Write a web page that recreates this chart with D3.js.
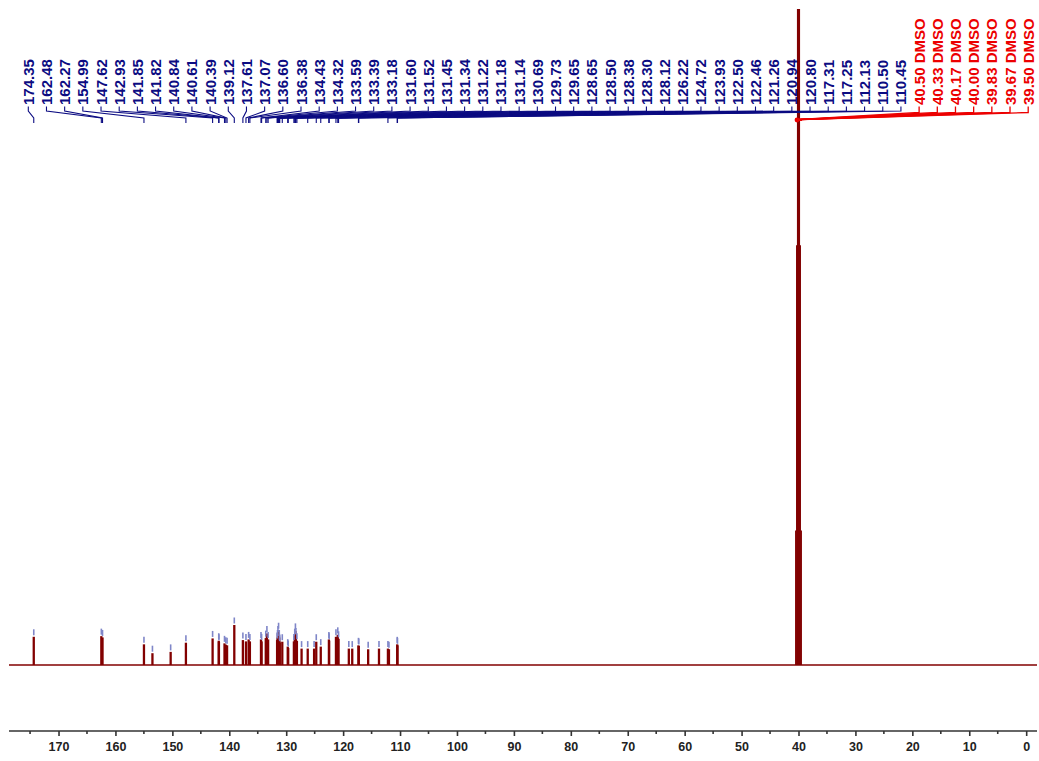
<!DOCTYPE html>
<html>
<head>
<meta charset="utf-8">
<script src="https://cdn.jsdelivr.net/npm/d3@7"></script>
<style>
  html, body { margin: 0; padding: 0; background: #ffffff; }
  svg { display: block; }
</style>
</head>
<body>
<svg id="chart" width="1039" height="761"></svg>
<script>
// 13C NMR peak list (ppm) with relative intensities (% of full scale)
const labelledShifts = [174.35, 162.48, 162.27, 154.99, 147.62, 142.93, 141.85, 141.82, 140.84, 140.61,
  140.39, 139.12, 137.61, 137.07, 136.60, 136.38, 134.43, 134.32, 133.59, 133.39,
  133.18, 131.60, 131.52, 131.45, 131.34, 131.22, 131.18, 131.14, 130.69, 129.73,
  129.65, 128.65, 128.50, 128.38, 128.30, 128.12, 126.22, 124.72, 123.93, 122.50,
  122.46, 121.26, 120.94, 120.80, 117.31, 117.25, 112.13, 110.50, 110.45];
const labelledHeights = [4.3, 4.4, 4.2, 3.15, 3.4, 4.05, 3.7, 3.55, 3.3, 3.1,
  3.0, 6.1, 3.8, 3.6, 3.9, 3.6, 3.9, 3.6, 4.1, 4.8,
  3.9, 3.8, 4.2, 4.8, 5.3, 4.2, 3.6, 3.4, 3.55, 2.8,
  2.6, 3.6, 4.4, 5.2, 4.5, 3.7, 2.5, 3.55, 2.8, 3.9,
  3.7, 4.3, 4.6, 4.0, 3.0, 2.9, 2.5, 3.15, 3.0];

// picked but unlabelled lines
const extraShifts = [153.5, 150.3, 127.3, 125.1, 119.0, 118.4, 115.6, 113.7, 111.95];
const extraHeights = [1.8, 2.0, 2.5, 2.5, 2.5, 2.5, 2.4, 2.5, 2.4];

// DMSO-d6 septet
const solventShifts = [40.50, 40.33, 40.17, 40.00, 39.83, 39.67, 39.50];
const solventHeights = [20.5, 64, 100, 100, 100, 64, 20.5];

// axis ticks (ppm)
const majorTicks = [170, 160, 150, 140, 130, 120, 110, 100, 90, 80, 70, 60, 50, 40, 30, 20, 10, 0];
const minorTicks = [175, 165, 155, 145, 135, 125, 115, 105, 95, 85, 75, 65, 55, 45, 35, 25, 15, 5];

const svg = d3.select("#chart");

const x = d3.scaleLinear().domain([178.7, -1.9]).range([9, 1037]);
const y = d3.scaleLinear().domain([0, 100]).range([665, 9]);

const spectrumColor = "#820000";
const blue = "#0c0c82";
const red = "#ec0000";
const font = "'Liberation Sans', Arial, sans-serif";

// ---- spectrum ----
const peaks = [];
labelledShifts.forEach((s, i) => peaks.push({ ppm: s, h: labelledHeights[i] }));
extraShifts.forEach((s, i) => peaks.push({ ppm: s, h: extraHeights[i] }));
const solvent = solventShifts.map((s, i) => ({ ppm: s, h: solventHeights[i] }));

const gSpec = svg.append("g");
gSpec.append("line")
  .attr("x1", x.range()[0]).attr("x2", x.range()[1])
  .attr("y1", y(0)).attr("y2", y(0))
  .attr("stroke", spectrumColor).attr("stroke-width", 1.6);

gSpec.selectAll("line.peak")
  .data(peaks)
  .join("line")
  .attr("class", "peak")
  .attr("x1", d => x(d.ppm)).attr("x2", d => x(d.ppm))
  .attr("y1", y(0)).attr("y2", d => y(d.h))
  .attr("stroke", spectrumColor).attr("stroke-width", 2.3);

gSpec.selectAll("line.solvent")
  .data(solvent)
  .join("line")
  .attr("class", "solvent")
  .attr("x1", d => x(d.ppm)).attr("x2", d => x(d.ppm))
  .attr("y1", y(0)).attr("y2", d => y(d.h))
  .attr("stroke", spectrumColor).attr("stroke-width", 1.2);

// peak-pick markers above each line
gSpec.selectAll("line.mark")
  .data(peaks)
  .join("line")
  .attr("class", "mark")
  .attr("x1", d => x(d.ppm)).attr("x2", d => x(d.ppm))
  .attr("y1", d => y(d.h) - 1.5).attr("y2", d => y(d.h) - 7.5)
  .attr("stroke", "#7f86c8").attr("stroke-width", 1.6);

// ---- peak labels with connectors ----
const labels = labelledShifts.map(s => ({ ppm: s, text: s.toFixed(2), color: blue }))
  .concat(solventShifts.map(s => ({ ppm: s, text: s.toFixed(2) + " DMSO", color: red })));
const lx = d3.scalePoint().domain(d3.range(labels.length)).range([28.3, 1028.2]);

const gLab = svg.append("g");
labels.forEach((d, i) => {
  const xl = lx(i), xp = x(d.ppm);
  const isRed = d.color === red;
  const yKnee = isRed ? 112.5 : 111;
  const yPeak = isRed ? 119.5 : 118;
  gLab.append("path")
    .attr("d", `M${xl},106.5 L${xl},${yKnee} L${xp},${yPeak} L${xp},${isRed ? 121 : 123}`)
    .attr("fill", "none")
    .attr("stroke", d.color)
    .attr("stroke-width", isRed ? 1.3 : 1.1);
  gLab.append("text")
    .attr("transform", `translate(${xl},105) rotate(-90)`)
    .attr("text-anchor", "start")
    .attr("dominant-baseline", "central")
    .attr("font-family", font)
    .attr("font-size", 15)
    .attr("font-weight", "bold")
    .attr("fill", d.color)
    .text(d.text);
});
gLab.append("circle")
  .attr("cx", x(d3.mean(solventShifts)) - 1.5).attr("cy", 120)
  .attr("r", 2.4).attr("fill", red);

// ---- ppm axis ----
const axisY = 731;
const gAxis = svg.append("g").attr("transform", `translate(0,${axisY})`);
gAxis.append("line")
  .attr("x1", 9).attr("x2", 1037).attr("y1", 0).attr("y2", 0)
  .attr("stroke", "#333").attr("stroke-width", 1.6);
const axis = d3.axisBottom(x).tickValues(majorTicks).tickSize(5).tickPadding(6).tickFormat(d3.format("d"));
gAxis.call(axis);
gAxis.select(".domain").remove();
gAxis.selectAll(".tick line").attr("stroke", "#333").attr("stroke-width", 1.6);
gAxis.selectAll(".tick text")
  .attr("font-family", font)
  .attr("font-size", 12.5).attr("font-weight", "bold").attr("fill", "#222");
gAxis.selectAll("line.minor")
  .data(minorTicks)
  .join("line")
  .attr("class", "minor")
  .attr("x1", d => x(d)).attr("x2", d => x(d))
  .attr("y1", 0).attr("y2", 3)
  .attr("stroke", "#333").attr("stroke-width", 1.6);
</script>
</body>
</html>
